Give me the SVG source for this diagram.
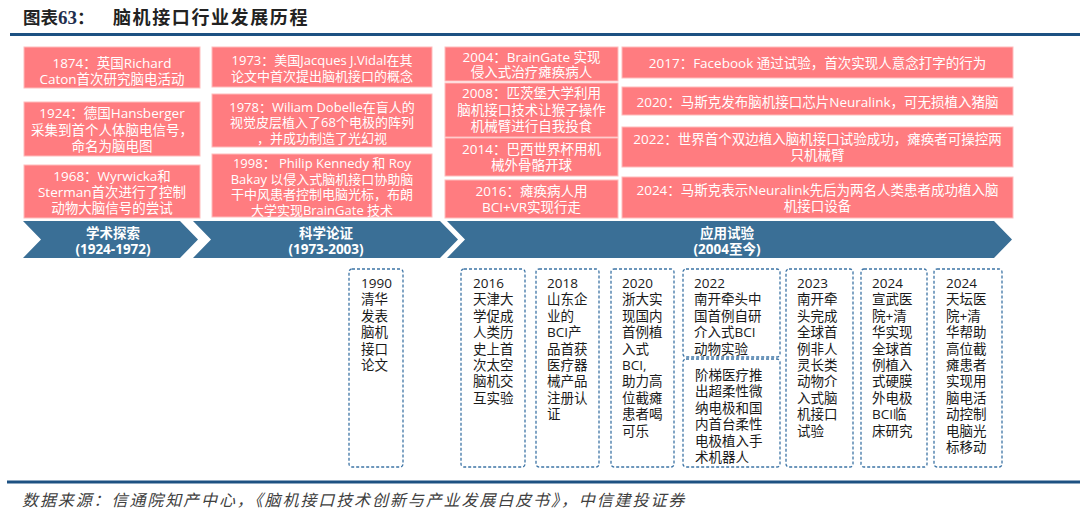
<svg xmlns="http://www.w3.org/2000/svg" width="1080" height="521" viewBox="0 0 1080 521">
<style>
.pk{fill:#FF7C80;stroke:#ffbcbc;stroke-width:1}
.pt{font-family:"Open Sans","Noto Sans CJK SC",sans-serif;font-size:13.5px;fill:#ffffff;text-anchor:middle}
.ps{font-size:13px}
.db{fill:#ffffff;stroke:#3d74a5;stroke-width:1.3;stroke-dasharray:3 2}
.dt{font-family:"Open Sans","Noto Sans CJK SC",sans-serif;font-size:13.5px;fill:#1a1a1a}
.ch{fill:#3a6f96}
.ct{font-family:"Open Sans","Noto Sans CJK SC",sans-serif;font-size:13.5px;font-weight:bold;fill:#ffffff;text-anchor:middle}
.rule{stroke:#1d5182;stroke-width:3}
</style>
<rect width="1080" height="521" fill="#ffffff"/>
<g id="title">
<text x="23" y="24" font-family="'Noto Sans CJK SC',sans-serif" font-size="17.5" font-weight="bold" fill="#222">图表<tspan font-family="'Liberation Serif',serif" font-size="19" fill="#1f2f4f">63</tspan>：</text>
<text x="113" y="24" font-family="'Noto Sans CJK SC',sans-serif" font-size="18" font-weight="bold" letter-spacing="1.6" fill="#222">脑机接口行业发展历程</text>
<line class="rule" x1="10" y1="34.5" x2="1080" y2="34.5"/>
</g>
<g id="col1">
<g id="n1874"><rect class="pk" x="24" y="47" width="176" height="41"/><text class="pt"><tspan x="112" y="68">1874：英国Richard</tspan><tspan x="112" y="84">Caton首次研究脑电活动</tspan></text></g>
<g id="n1924"><rect class="pk" x="24" y="102" width="176" height="54"/><text class="pt"><tspan x="112" y="118">1924：德国Hansberger</tspan><tspan x="112" y="134.5">采集到首个人体脑电信号，</tspan><tspan x="112" y="151">命名为脑电图</tspan></text></g>
<g id="n1968"><rect class="pk" x="24" y="165" width="176" height="53"/><text class="pt"><tspan x="112" y="181">1968：Wyrwicka和</tspan><tspan x="112" y="197">Sterman首次进行了控制</tspan><tspan x="112" y="213">动物大脑信号的尝试</tspan></text></g>
</g>
<g id="col2">
<g id="n1973"><rect class="pk" x="212" y="47" width="220" height="40"/><text class="pt ps"><tspan x="322" y="65">1973：美国Jacques J.Vidal在其</tspan><tspan x="322" y="80.5">论文中首次提出脑机接口的概念</tspan></text></g>
<g id="n1978"><rect class="pk" x="212" y="94" width="220" height="53"/><text class="pt ps"><tspan x="322" y="111.5">1978：Wiliam Dobelle在盲人的</tspan><tspan x="322" y="127">视觉皮层植入了68个电极的阵列</tspan><tspan x="322" y="142.5">，并成功制造了光幻视</tspan></text></g>
<g id="n1998"><rect class="pk" x="212" y="154" width="220" height="63"/><text class="pt ps"><tspan x="322" y="168">1998： Philip Kennedy 和 Roy</tspan><tspan x="322" y="183.5">Bakay 以侵入式脑机接口协助脑</tspan><tspan x="322" y="199">干中风患者控制电脑光标，布朗</tspan><tspan x="322" y="214.5">大学实现BrainGate 技术</tspan></text></g>
</g>
<g id="col3">
<g id="n2004"><rect class="pk" x="445" y="47" width="173" height="34"/><text class="pt"><tspan x="531.5" y="62">2004：BrainGate 实现</tspan><tspan x="531.5" y="77">侵入式治疗瘫痪病人</tspan></text></g>
<g id="n2008"><rect class="pk" x="445" y="83" width="173" height="54"/><text class="pt"><tspan x="531.5" y="98">2008：匹茨堡大学利用</tspan><tspan x="531.5" y="114.5">脑机接口技术让猴子操作</tspan><tspan x="531.5" y="131">机械臂进行自我投食</tspan></text></g>
<g id="n2014"><rect class="pk" x="445" y="138" width="173" height="38"/><text class="pt"><tspan x="531.5" y="154">2014：巴西世界杯用机</tspan><tspan x="531.5" y="170">械外骨骼开球</tspan></text></g>
<g id="n2016"><rect class="pk" x="445" y="180" width="173" height="38"/><text class="pt"><tspan x="531.5" y="196">2016：瘫痪病人用</tspan><tspan x="531.5" y="212">BCI+VR实现行走</tspan></text></g>
</g>
<g id="col4">
<g id="n2017"><rect class="pk" x="622" y="47" width="391" height="31"/><text class="pt"><tspan x="817.5" y="68">2017：Facebook 通过试验，首次实现人意念打字的行为</tspan></text></g>
<g id="n2020"><rect class="pk" x="622" y="87" width="391" height="28"/><text class="pt"><tspan x="817.5" y="106.5">2020：马斯克发布脑机接口芯片Neuralink，可无损植入猪脑</tspan></text></g>
<g id="n2022"><rect class="pk" x="622" y="127" width="391" height="40"/><text class="pt"><tspan x="817.5" y="144">2022：世界首个双边植入脑机接口试验成功，瘫痪者可操控两</tspan><tspan x="817.5" y="160">只机械臂</tspan></text></g>
<g id="n2024"><rect class="pk" x="622" y="177" width="391" height="41"/><text class="pt"><tspan x="817.5" y="195">2024：马斯克表示Neuralink先后为两名人类患者成功植入脑</tspan><tspan x="817.5" y="210.5">机接口设备</tspan></text></g>
</g>
<g id="phases">
<g id="p1"><polygon class="ch" points="23,221 180,221 198,239.5 180,258 23,258 41,239.5"/><text class="ct"><tspan x="113" y="238">学术探索</tspan><tspan x="113" y="254">(1924-1972)</tspan></text></g>
<g id="p2"><polygon class="ch" points="193,221 440,221 458,239.5 440,258 193,258 211,239.5"/><text class="ct"><tspan x="326" y="238">科学论证</tspan><tspan x="326" y="254">(1973-2003)</tspan></text></g>
<g id="p3"><polygon class="ch" points="447,221 994,221 1012,239.5 994,258 447,258 465,239.5"/><text class="ct"><tspan x="727" y="238">应用试验</tspan><tspan x="727" y="254">(2004至今)</tspan></text></g>
</g>
<g id="bottom">
<g id="b1990"><rect class="db" x="349" y="269" width="54" height="198" rx="3"/><text class="dt"><tspan x="361" y="288">1990</tspan><tspan x="361" y="304.4">清华</tspan><tspan x="361" y="320.8">发表</tspan><tspan x="361" y="337.2">脑机</tspan><tspan x="361" y="353.6">接口</tspan><tspan x="361" y="370">论文</tspan></text></g>
<g id="b2016"><rect class="db" x="461" y="269" width="64" height="198" rx="3"/><text class="dt"><tspan x="473" y="288">2016</tspan><tspan x="473" y="304.4">天津大</tspan><tspan x="473" y="320.8">学促成</tspan><tspan x="473" y="337.2">人类历</tspan><tspan x="473" y="353.6">史上首</tspan><tspan x="473" y="370">次太空</tspan><tspan x="473" y="386.4">脑机交</tspan><tspan x="473" y="402.8">互实验</tspan></text></g>
<g id="b2018"><rect class="db" x="536" y="269" width="63" height="198" rx="3"/><text class="dt"><tspan x="547" y="288">2018</tspan><tspan x="547" y="304.4">山东企</tspan><tspan x="547" y="320.8">业的</tspan><tspan x="547" y="337.2">BCI产</tspan><tspan x="547" y="353.6">品首获</tspan><tspan x="547" y="370">医疗器</tspan><tspan x="547" y="386.4">械产品</tspan><tspan x="547" y="402.8">注册认</tspan><tspan x="547" y="419.2">证</tspan></text></g>
<g id="b2020"><rect class="db" x="611" y="269" width="63" height="198" rx="3"/><text class="dt"><tspan x="622" y="288">2020</tspan><tspan x="622" y="304.4">浙大实</tspan><tspan x="622" y="320.8">现国内</tspan><tspan x="622" y="337.2">首例植</tspan><tspan x="622" y="353.6">入式</tspan><tspan x="622" y="370">BCI,</tspan><tspan x="622" y="386.4">助力高</tspan><tspan x="622" y="402.8">位截瘫</tspan><tspan x="622" y="419.2">患者喝</tspan><tspan x="622" y="435.6">可乐</tspan></text></g>
<g id="b2022a"><rect class="db" x="683" y="269" width="97" height="88" rx="3"/><text class="dt"><tspan x="694" y="288">2022</tspan><tspan x="694" y="304.4">南开牵头中</tspan><tspan x="694" y="320.8">国首例自研</tspan><tspan x="694" y="337.2">介入式BCI</tspan><tspan x="694" y="353.6">动物实验</tspan></text></g>
<g id="b2022b"><rect class="db" x="683" y="359" width="97" height="108" rx="3"/><text class="dt"><tspan x="695" y="380">阶梯医疗推</tspan><tspan x="695" y="396.4">出超柔性微</tspan><tspan x="695" y="412.8">纳电极和国</tspan><tspan x="695" y="429.2">内首台柔性</tspan><tspan x="695" y="445.6">电极植入手</tspan><tspan x="695" y="462">术机器人</tspan></text></g>
<g id="b2023"><rect class="db" x="786" y="269" width="67" height="198" rx="3"/><text class="dt"><tspan x="797" y="288">2023</tspan><tspan x="797" y="304.4">南开牵</tspan><tspan x="797" y="320.8">头完成</tspan><tspan x="797" y="337.2">全球首</tspan><tspan x="797" y="353.6">例非人</tspan><tspan x="797" y="370">灵长类</tspan><tspan x="797" y="386.4">动物介</tspan><tspan x="797" y="402.8">入式脑</tspan><tspan x="797" y="419.2">机接口</tspan><tspan x="797" y="435.6">试验</tspan></text></g>
<g id="b2024a"><rect class="db" x="861" y="269" width="66" height="198" rx="3"/><text class="dt"><tspan x="872" y="288">2024</tspan><tspan x="872" y="304.4">宣武医</tspan><tspan x="872" y="320.8">院+清</tspan><tspan x="872" y="337.2">华实现</tspan><tspan x="872" y="353.6">全球首</tspan><tspan x="872" y="370">例植入</tspan><tspan x="872" y="386.4">式硬膜</tspan><tspan x="872" y="402.8">外电极</tspan><tspan x="872" y="419.2">BCI临</tspan><tspan x="872" y="435.6">床研究</tspan></text></g>
<g id="b2024b"><rect class="db" x="934" y="269" width="68" height="198" rx="3"/><text class="dt"><tspan x="946" y="288">2024</tspan><tspan x="946" y="304.4">天坛医</tspan><tspan x="946" y="320.8">院+清</tspan><tspan x="946" y="337.2">华帮助</tspan><tspan x="946" y="353.6">高位截</tspan><tspan x="946" y="370">瘫患者</tspan><tspan x="946" y="386.4">实现用</tspan><tspan x="946" y="402.8">脑电活</tspan><tspan x="946" y="419.2">动控制</tspan><tspan x="946" y="435.6">电脑光</tspan><tspan x="946" y="452">标移动</tspan></text></g>
</g>
<g id="connectors"></g>
<g id="footer">
<line class="rule" x1="7" y1="482" x2="1080" y2="482" stroke-width="2.5"/>
<text x="22" y="506" font-family="'Noto Sans CJK SC',sans-serif" font-size="16" font-style="italic" letter-spacing="1.9" fill="#404040">数据来源：信通院知产中心，《脑机接口技术创新与产业发展白皮书》，中信建投证券</text>
</g>
</svg>
